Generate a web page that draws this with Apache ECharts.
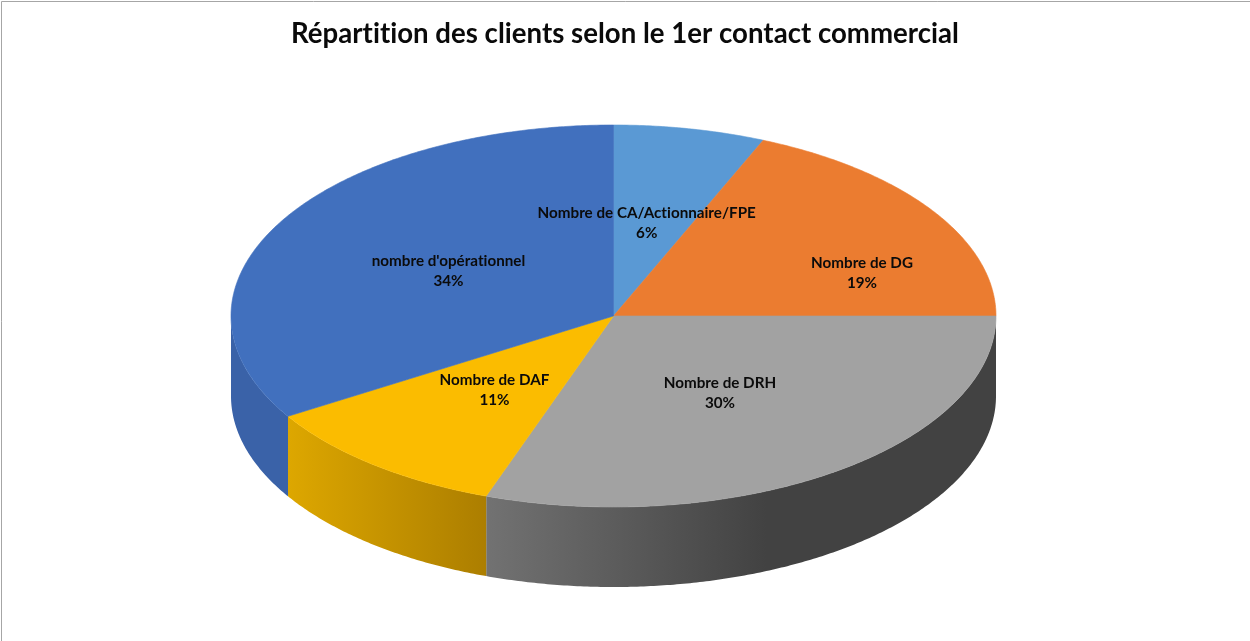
<!DOCTYPE html>
<html>
<head>
<meta charset="utf-8">
<style>html,body{margin:0;padding:0;background:#fff}#c{width:1250px;height:641px}</style>
<script src="https://cdn.jsdelivr.net/npm/echarts@6/dist/echarts.min.js"></script>
</head>
<body>
<div id="c"></div>
<script>
const titleText = "Répartition des clients selon le 1er contact commercial";
const categories = ["Nombre de CA/Actionnaire/FPE", "Nombre de DG", "Nombre de DRH", "Nombre de DAF", "nombre d'opérationnel"];
const shares = [6.4, 18.6, 30.4, 10.8, 33.8];

const topColors = ["#5A99D4", "#EB7C30", "#A2A2A2", "#FBBC00", "#4170BE"];
// side wall gradients: colour stops left to right
const sideStops = [
  [[0, "#4a7fb0"], [1, "#4a7fb0"]],
  [[0, "#c46627"], [1, "#c46627"]],
  [[0, "#727272"], [0.55, "#424242"], [1, "#424242"]],
  [[0, "#DDA700"], [1, "#AC7E00"]],
  [[0, "#3A62A8"], [1, "#3A62A8"]]
];
const labelShift = [[-5, 1], [89, 10], [-4, -1], [1, 0], [2, 2]];
const PIE = { cx: 613.5, cy: 316, rx: 382.5, ry: 191, depth: 80, labelR: 0.5 };

// The reference text has no Lato-style "ti" ligatures: keep letters separate in canvas text.
const origGetContext = HTMLCanvasElement.prototype.getContext;
HTMLCanvasElement.prototype.getContext = function () {
  const ctx = origGetContext.apply(this, arguments);
  if (ctx && 'letterSpacing' in ctx) ctx.letterSpacing = '0.01px';
  return ctx;
};

const total = shares.reduce((a, b) => a + b, 0);
const starts = [];
shares.reduce((acc, v, i) => { starts[i] = acc; return acc + v; }, 0);
const toAngle = v => v / total * 2 * Math.PI;
const pt = (a, dy) => [PIE.cx + PIE.rx * Math.sin(a), PIE.cy - PIE.ry * Math.cos(a) + (dy || 0)];
function arc(a0, a1, dy) {
  const n = Math.max(2, Math.ceil((a1 - a0) / (Math.PI / 360)));
  const out = [];
  for (let i = 0; i <= n; i++) out.push(pt(a0 + (a1 - a0) * i / n, dy));
  return out;
}

function renderItem(params, api) {
  const i = params.dataIndex;
  const a0 = toAngle(starts[i]);
  const a1 = a0 + toAngle(api.value(1));
  const children = [];
  const s0 = Math.max(a0, Math.PI / 2), s1 = Math.min(a1, 3 * Math.PI / 2);
  if (s1 > s0) {
    const upper = arc(s0, s1, 0);
    const lower = arc(s0, s1, PIE.depth).reverse();
    const xs = upper.map(p => p[0]);
    const xa = Math.min(...xs), xb = Math.max(...xs);
    const fill = new echarts.graphic.LinearGradient(xa, 0, xb, 0,
      sideStops[i].map(s => ({ offset: s[0], color: s[1] })), true);
    children.push({ type: 'polygon', shape: { points: upper.concat(lower) }, style: { fill: fill }, silent: true });
  }
  const top = [[PIE.cx, PIE.cy]].concat(arc(a0, a1, 0));
  children.push({ type: 'polygon', shape: { points: top }, style: { fill: topColors[i], stroke: topColors[i], lineWidth: 0.6 }, silent: true });
  return { type: 'group', children: children };
}

function renderLabel(params, api) {
  const i = params.dataIndex;
  const mid = toAngle(starts[i]) + toAngle(api.value(1)) / 2;
  const x = PIE.cx + PIE.rx * PIE.labelR * Math.sin(mid) + labelShift[i][0];
  const y = PIE.cy - PIE.ry * PIE.labelR * Math.cos(mid) + labelShift[i][1];
  return {
    type: 'text', silent: true,
    style: {
      x: x, y: y, text: categories[i] + "\n" + Math.round(api.value(1)) + "%",
      font: "bold 15.2px Lato", lineHeight: 20, fill: "#0b0b0b",
      align: 'center', verticalAlign: 'middle'
    }
  };
}

const data = shares.map((v, i) => [i, v]);
const chart = echarts.init(document.getElementById('c'), null, { renderer: 'canvas' });
chart.setOption({
  animation: false,
  backgroundColor: '#fff',
  title: {
    text: titleText, left: 'center', top: 15,
    textStyle: { fontFamily: 'Lato', fontWeight: 'bold', fontSize: 27.6, color: '#0a0a0a' }
  },
  graphic: [
    { type: 'line', silent: true, shape: { x1: 1.5, y1: 1.5, x2: 1250, y2: 1.5 }, style: { stroke: '#a6a6a6', lineWidth: 1 } },
    { type: 'line', silent: true, shape: { x1: 1.5, y1: 1.5, x2: 1.5, y2: 641 }, style: { stroke: '#a6a6a6', lineWidth: 1 } }
  ],
  series: [
    { type: 'custom', coordinateSystem: 'none', renderItem: renderItem, data: data, z: 1, silent: true },
    { type: 'custom', coordinateSystem: 'none', renderItem: renderLabel, data: data, z: 2, silent: true }
  ]
});
</script>
</body>
</html>
